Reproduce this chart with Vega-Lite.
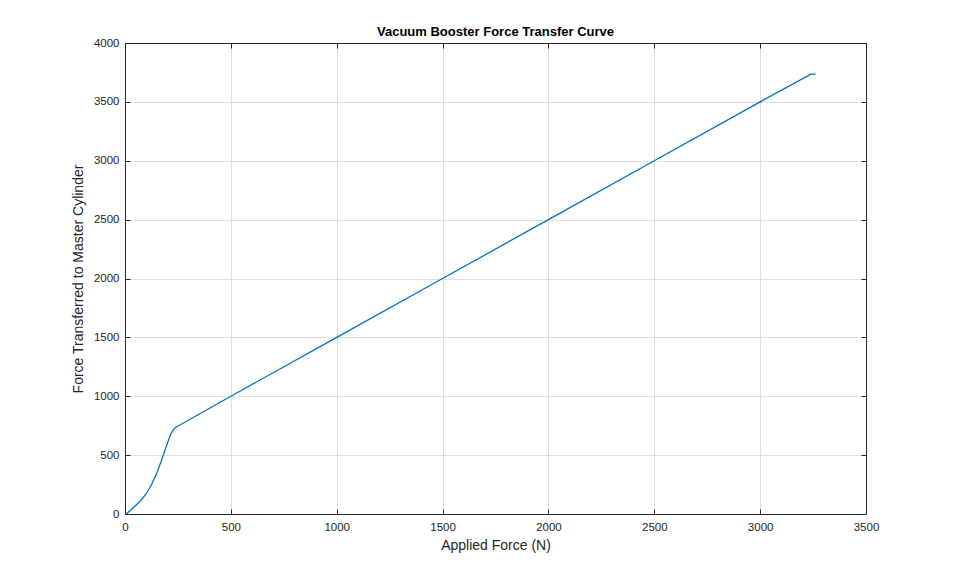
{
  "$schema": "https://vega.github.io/schema/vega-lite/v6.json",
  "autosize": {"type": "none"},
  "width": 741,
  "height": 471,
  "padding": {"left": 125, "top": 43, "right": 93, "bottom": 63},
  "background": "white",
  "title": {"text": "Vacuum Booster Force Transfer Curve", "font": "Liberation Sans", "fontSize": 13, "fontWeight": "bold", "color": "#000000", "offset": -2},
  "config": {
    "view": {"stroke": null},
    "axis": {
      "domainColor": "#262626", "domainWidth": 1,
      "tickColor": "#262626", "tickSize": -5,
      "gridColor": "#dfdfdf", "gridWidth": 1,
      "labelFont": "Liberation Sans", "labelFontSize": 11.5, "labelColor": "#262626",
      "labelFlush": false, "labelOverlap": false, "format": "d",
      "titleFont": "Liberation Sans", "titleFontSize": 14, "titleFontWeight": "normal", "titleColor": "#262626"
    }
  },
  "data": {"values": [
    {"x": 0, "y": 0},
    {"x": 12, "y": 10},
    {"x": 25, "y": 30},
    {"x": 50, "y": 72},
    {"x": 75, "y": 115},
    {"x": 100, "y": 172},
    {"x": 125, "y": 248},
    {"x": 150, "y": 345},
    {"x": 175, "y": 470},
    {"x": 200, "y": 600},
    {"x": 215, "y": 675},
    {"x": 228, "y": 715},
    {"x": 240, "y": 738},
    {"x": 255, "y": 752},
    {"x": 500, "y": 1000},
    {"x": 1000, "y": 1500},
    {"x": 1500, "y": 2000},
    {"x": 2000, "y": 2500},
    {"x": 2500, "y": 3000},
    {"x": 3000, "y": 3500},
    {"x": 3240, "y": 3735},
    {"x": 3262, "y": 3735}
  ]},
  "layer": [
    {
      "mark": {"type": "line", "color": "#0072BD", "strokeWidth": 1.3},
      "encoding": {
        "x": {"field": "x", "type": "quantitative", "scale": {"domain": [0, 3500], "nice": false},
          "axis": {"title": "Applied Force (N)", "values": [0,500,1000,1500,2000,2500,3000,3500], "labelPadding": 12, "titlePadding": 6}},
        "y": {"field": "y", "type": "quantitative", "scale": {"domain": [0, 4000], "nice": false},
          "axis": {"title": "Force Transferred to Master Cylinder", "values": [0,500,1000,1500,2000,2500,3000,3500,4000], "labelPadding": 11, "titlePadding": 8}}
      }
    },
    {
      "mark": {"type": "line", "opacity": 0},
      "encoding": {
        "x": {"field": "x", "type": "quantitative", "axis": {"orient": "top", "labels": false, "title": null, "grid": false, "values": [0,500,1000,1500,2000,2500,3000,3500]}},
        "y": {"field": "y", "type": "quantitative", "axis": {"orient": "right", "labels": false, "title": null, "grid": false, "values": [0,500,1000,1500,2000,2500,3000,3500,4000]}}
      }
    }
  ],
  "resolve": {"axis": {"x": "independent", "y": "independent"}}
}
